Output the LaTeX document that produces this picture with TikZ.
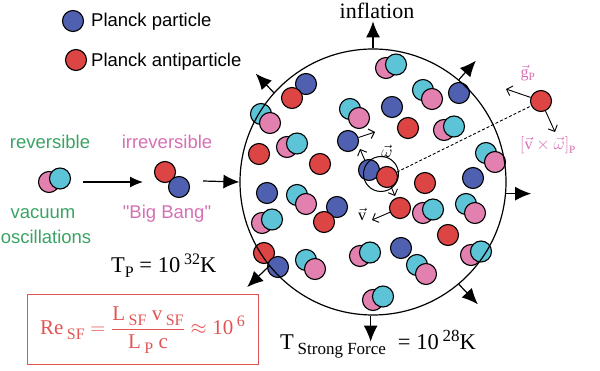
\documentclass[tikz,border=0pt]{standalone}
\usepackage{amsmath}
\usepackage{fontspec}
\setmainfont{Liberation Serif}
\newfontfamily\helv{Liberation Sans}
\usetikzlibrary{arrows.meta}

\definecolor{pblue}{RGB}{80,96,176}
\definecolor{pred}{RGB}{221,68,68}
\definecolor{pcyan}{RGB}{92,196,214}
\definecolor{ppink}{RGB}{226,128,176}
\definecolor{tgreen}{RGB}{58,163,100}
\definecolor{tpink}{RGB}{214,112,180}
\definecolor{boxred}{RGB}{226,84,84}

\newcommand{\subtxt}[2]{\raisebox{-5pt}{\fontsize{#1}{#1}\selectfont #2}}
\newcommand{\suptxt}[2]{\raisebox{8pt}{\fontsize{#1}{#1}\selectfont #2}}

\tikzset{
  ball/.style={circle,draw=black,line width=1.1pt,minimum size=21pt,inner sep=0pt},
  plk/.style={ball,fill=pblue},
  aplk/.style={ball,fill=pred},
  cyn/.style={ball,fill=pcyan},
  pnk/.style={ball,fill=ppink},
  push/.style={line width=1.2pt,-{Latex[length=16pt,width=14pt]}},
  spin/.style={line width=0.9pt,-{Straight Barb[length=5pt,width=10pt]}},
  sans/.style={font=\helv\fontsize{18.5}{20}\selectfont,inner sep=0pt},
  serif/.style={font=\fontsize{22}{24}\selectfont,inner sep=0pt},
}

\begin{document}
\begin{tikzpicture}[x=1pt,y=-1pt]
    \useasboundingbox (0,0) rectangle (600,371);

    % legend
    \node[plk] (keyp) at (73,21) {};
    \node[sans,anchor=base west] (keyptxt) at (91,27) {Planck particle};
    \node[aplk] (keya) at (76,60) {};
    \node[sans,anchor=base west] (keyatxt) at (91,66.5) {Planck antiparticle};

    % vacuum pair and first pair
    \node[sans,text=tgreen,anchor=base] (revtxt) at (50,149) {reversible};
    \node[pnk] (vacb) at (49,182) {};
    \node[cyn] (vaca) at (60,178.5) {};
    \node[sans,text=tgreen,anchor=base] (vactxt) at (43,219) {vacuum};
    \node[sans,text=tgreen,anchor=base] (osctxt) at (46,244) {oscillations};
    \node[sans,text=tpink,anchor=base] (irrtxt) at (167,149) {irreversible};
    \node[aplk] (bangr) at (165,172) {};
    \node[plk] (bangb) at (179,187) {};
    \node[sans,text=tpink,anchor=base] (bangtxt) at (167,219) {"Big Bang"};
    \coordinate (ra) at (83,182);
    \coordinate (rb) at (143,182);
    \coordinate (rc) at (203,181);
    \draw[line width=1.2pt,-{Latex[length=13pt,width=11pt]}] (ra) -- (rb);

    % particles behind
    \node[plk] (b1) at (306,84) {};
    \node[plk] (b7) at (337,207) {};
    \node[plk] (cb) at (369,170) {};
    \node[aplk] (r10) at (264,253) {};
    % vacuum pairs inside, pink behind
    \foreach \x/\y [count=\i] in {287/147,386/68,444/130,262/223,360/256,373/300,423/213,471/255}
        {\node[pnk] (pa\i) at (\x,\y) {};
         \node[cyn] (ca\i) at (\x+10,\y-3.5) {};}
    % vacuum pairs inside, cyan behind
    \foreach \x/\y [count=\i] in {261/114,350/109,423/90,486/153,297/195,306/260,466/204,417/265}
        {\node[cyn] (cb\i) at (\x,\y) {};
         \node[pnk] (pb\i) at (\x+9,\y+9) {};}
    % lone particles
    \node[plk] (b2) at (348,141) {};
    \node[plk] (b3) at (459,93) {};
    \node[plk] (b4) at (392,107) {};
    \node[plk] (b5) at (473,178) {};
    \node[plk] (b6) at (267,193) {};
    \node[plk] (b8) at (401,248) {};
    \node[aplk] (r1) at (292,98) {};
    \node[aplk] (r2) at (259,154) {};
    \node[aplk] (r3) at (320,164) {};
    \node[aplk] (r4) at (408,128) {};
    \node[aplk] (r5) at (425,183) {};
    \node[aplk] (vr) at (400,208) {};
    \node[aplk] (r6) at (448,235) {};
    \node[aplk] (r7) at (324,222) {};
    \node[aplk] (cr) at (387,177) {};
    \node[plk] (b9) at (278,267) {};
    \node[draw,circle,line width=1pt,minimum size=35pt,inner sep=0pt] (ring) at (381,174) {};

    % the universe
    \node[draw,circle,line width=1.2pt,minimum size=266pt,inner sep=0pt] (universe) at (373,182) {};
    \draw[push] (rc) -- (universe.west);
    \draw[push] (universe.90) -- ++(0,-27);
    \draw[push] (universe.50) -- ++(17,-19);
    \draw[push] (universe.-5) -- ++(25,0);
    \draw[push] (universe.-50) -- ++(19,20);
    \draw[push] (universe.-91) -- ++(0,26);
    \draw[push] (universe.219) -- ++(-22,21);
    \draw[push] (universe.138) -- ++(-18,-19);
    \node[serif,anchor=base] (infl) at (377,19) {inflation};

    % spin and velocity
    \draw[spin] (b2) -- ++(27,-9);
    \draw[spin] (cb) -- ++(-9,-21);
    \draw[spin] (cr) -- ++(8,19);
    \draw[spin] (vr) -- ++(-28,12);
    \node[font=\fontsize{16}{18}\selectfont,inner sep=0pt] (omtxt) at (387,151) {$\vec{\omega}$};
    \node[font=\fontsize{16}{18}\selectfont,inner sep=0pt] (vtxt) at (362,214) {$\vec{\mathrm{v}}$};

    % escaping antiparticle
    \node[aplk] (outr) at (541,101) {};
    \draw[dash pattern=on 3pt off 2pt,line width=0.9pt] (cr) -- (outr);
    \draw[spin] (outr) -- ++(-35,-12);
    \draw[spin] (outr) -- ++(14,31);
    \node[text=tpink,font=\fontsize{16}{18}\selectfont,inner sep=0pt] (gtxt) at (528,73) {$\vec{\mathrm{g}}_{\mathrm{P}}$};
    \node[text=tpink,font=\fontsize{16}{18}\selectfont,inner sep=0pt] (vwtxt) at (548,145) {$\left[\vec{\mathrm{v}}\times\vec{\omega}\right]_{\mathrm{P}}$};

    % temperatures and Reynolds number
    \node[font=\fontsize{22.5}{24}\selectfont,anchor=base west,inner sep=0pt] (tp) at (111,273)
        {T\subtxt{16}{P} = 10\,\suptxt{16}{32}K};
    \node[font=\fontsize{22.5}{24}\selectfont,anchor=base west,inner sep=0pt] (tsf) at (280,350)
        {T\,\subtxt{17}{Strong Force}\hspace{12pt}= 10\,\suptxt{17}{28}K};
    \node[draw=boxred,line width=1pt,text=boxred,minimum width=231pt,minimum height=70pt,font=\fontsize{21}{24}\selectfont] (rebox) at (142.5,330)
        {$\text{Re\,\subtxt{16}{SF}} = \dfrac{\text{L\,\subtxt{16}{SF} v\,\subtxt{16}{SF}}}{\text{L\,\subtxt{16}{P} c}} \approx \text{10\,\suptxt{16}{6}}$};
\end{tikzpicture}
\end{document}
